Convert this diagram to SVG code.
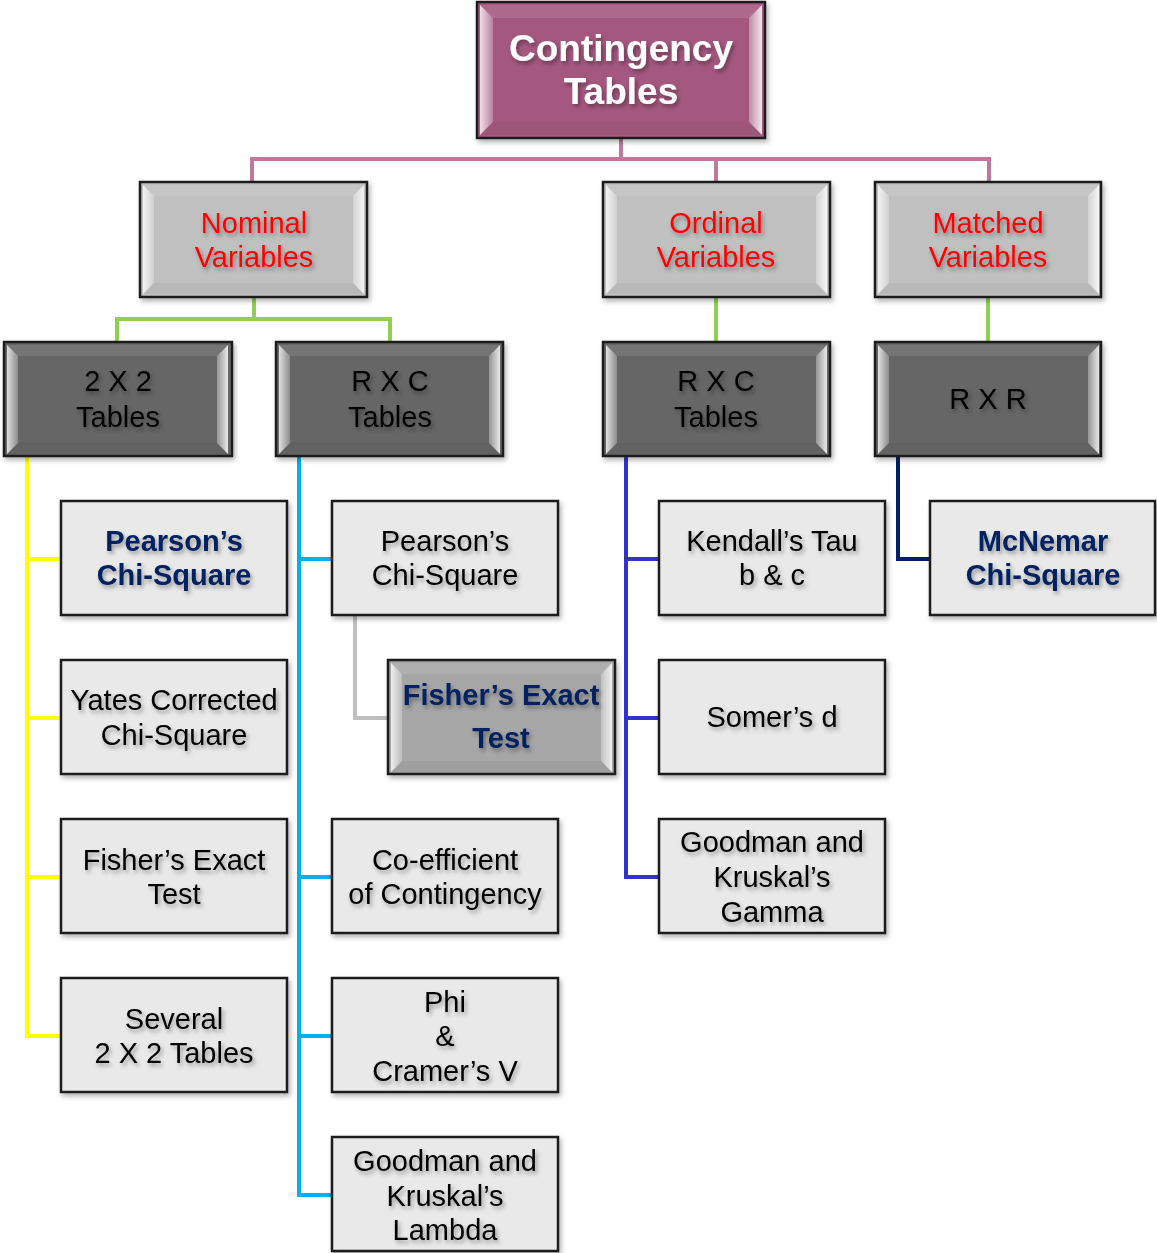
<svg xmlns="http://www.w3.org/2000/svg" xmlns:xlink="http://www.w3.org/1999/xlink" width="1157" height="1253" viewBox="0 0 1157 1253">
<defs>
<filter id="ts" x="-10%" y="-30%" width="130%" height="170%"><feDropShadow dx="2" dy="3" stdDeviation="2" flood-color="#000" flood-opacity="0.35"/></filter>
<filter id="bs" x="-5%" y="-5%" width="115%" height="120%"><feDropShadow dx="2" dy="3" stdDeviation="2.5" flood-color="#000" flood-opacity="0.3"/></filter>
<linearGradient id="gl" x1="0" y1="0" x2="1" y2="0"><stop offset="0" stop-color="#fff" stop-opacity="0.8"/><stop offset="1" stop-color="#fff" stop-opacity="0.25"/></linearGradient>
<linearGradient id="gr" x1="1" y1="0" x2="0" y2="0"><stop offset="0" stop-color="#fff" stop-opacity="0.85"/><stop offset="1" stop-color="#fff" stop-opacity="0.3"/></linearGradient>
<g id="bev">
<polygon points="3,3 224,3 213,14 14,14" fill="#fff" fill-opacity="0.1"/>
<polygon points="3,112 224,112 213,101 14,101" fill="#000" fill-opacity="0.04"/>
<polygon points="3,3 14,14 14,101 3,112" fill="url(#gl)"/>
<polygon points="224,3 213,14 213,101 224,112" fill="url(#gr)"/>
</g>
<g id="bevR">
<polygon points="3,3 285,3 272,16 16,16" fill="#fff" fill-opacity="0.1"/>
<polygon points="3,133 285,133 272,120 16,120" fill="#000" fill-opacity="0.04"/>
<polygon points="3,3 16,16 16,120 3,133" fill="url(#gl)"/>
<polygon points="285,3 272,16 272,120 285,133" fill="url(#gr)"/>
</g>
</defs>
<style>
.box{stroke:#1a1a1a;stroke-width:2.5}
.root{fill:#A5587F}
.l1{fill:#C0C0C0}
.dk{fill:#666666}
.lf{fill:#E9E9E9}
.fx{fill:#A6A6A6}
text{font-family:"Liberation Sans",Arial,sans-serif;font-size:29px;text-anchor:middle}
.tw{fill:#fff;font-weight:bold;font-size:37px}
.tr{fill:#FF0000}
.tk{fill:#000}
.tb{fill:#002060;font-weight:bold}
.c{fill:none;stroke-width:4;stroke-linejoin:miter}
</style>
<g id="connectors">
<path class="c" stroke="#C0789D" d="M621,138 V159 M252,182 V159 H989 V182 M716,159 V182"/>
<path class="c" stroke="#92D050" d="M254,297 V319 M117,342 V319 H390 V342 M716,297 V342 M988,297 V342"/>
<path class="c" stroke="#FFFF00" d="M27,456 V1036 H61 M27,559 H61 M27,718 H61 M27,877 H61"/>
<path class="c" stroke="#00B0F0" d="M299,456 V1195 H332 M299,559 H332 M299,877 H332 M299,1036 H332"/>
<path class="c" stroke="#BFBFBF" d="M355,615 V718 H388"/>
<path class="c" stroke="#3333CC" d="M626,456 V877 H659 M626,559 H659 M626,718 H659"/>
<path class="c" stroke="#002060" d="M898,456 V559 H930"/>
</g>
<g id="root" filter="url(#bs)"><rect class="box root" x="477" y="2" width="288" height="136"/><use xlink:href="#bevR" x="477" y="2"/>
<text class="tw" filter="url(#ts)"><tspan x="621" y="61">Contingency</tspan><tspan x="621" y="104">Tables</tspan></text></g>

<g id="nominal" filter="url(#bs)"><rect class="box l1" x="140" y="182" width="227" height="115"/><use xlink:href="#bev" x="140" y="182"/>
<text class="tr" filter="url(#ts)"><tspan x="254" y="233">Nominal</tspan><tspan x="254" y="267">Variables</tspan></text></g>
<g id="ordinal" filter="url(#bs)"><rect class="box l1" x="603" y="182" width="227" height="115"/><use xlink:href="#bev" x="603" y="182"/>
<text class="tr" filter="url(#ts)"><tspan x="716" y="233">Ordinal</tspan><tspan x="716" y="267">Variables</tspan></text></g>
<g id="matched" filter="url(#bs)"><rect class="box l1" x="875" y="182" width="226" height="115"/><use xlink:href="#bev" x="875" y="182"/>
<text class="tr" filter="url(#ts)"><tspan x="988" y="233">Matched</tspan><tspan x="988" y="267">Variables</tspan></text></g>

<g id="t2x2" filter="url(#bs)"><rect class="box dk" x="4" y="342" width="228" height="114"/><use xlink:href="#bev" x="4" y="342"/>
<text class="tk" filter="url(#ts)"><tspan x="118" y="391">2 X 2</tspan><tspan x="118" y="427">Tables</tspan></text></g>
<g id="trxc1" filter="url(#bs)"><rect class="box dk" x="276" y="342" width="227" height="114"/><use xlink:href="#bev" x="276" y="342"/>
<text class="tk" filter="url(#ts)"><tspan x="390" y="391">R X C</tspan><tspan x="390" y="427">Tables</tspan></text></g>
<g id="trxc2" filter="url(#bs)"><rect class="box dk" x="603" y="342" width="227" height="114"/><use xlink:href="#bev" x="603" y="342"/>
<text class="tk" filter="url(#ts)"><tspan x="716" y="391">R X C</tspan><tspan x="716" y="427">Tables</tspan></text></g>
<g id="trxr" filter="url(#bs)"><rect class="box dk" x="875" y="342" width="226" height="114"/><use xlink:href="#bev" x="875" y="342"/>
<text class="tk" filter="url(#ts)" x="988" y="409">R X R</text></g>

<g id="pearson1" filter="url(#bs)"><rect class="box lf" x="61" y="501" width="226" height="114"/>
<text class="tb" filter="url(#ts)"><tspan x="174" y="551">Pearson’s</tspan><tspan x="174" y="585">Chi-Square</tspan></text></g>
<g id="yates" filter="url(#bs)"><rect class="box lf" x="61" y="660" width="226" height="114"/>
<text class="tk" filter="url(#ts)"><tspan x="174" y="710">Yates Corrected</tspan><tspan x="174" y="745">Chi-Square</tspan></text></g>
<g id="fisher1" filter="url(#bs)"><rect class="box lf" x="61" y="819" width="226" height="114"/>
<text class="tk" filter="url(#ts)"><tspan x="174" y="870">Fisher’s Exact</tspan><tspan x="174" y="904">Test</tspan></text></g>
<g id="several" filter="url(#bs)"><rect class="box lf" x="61" y="978" width="226" height="114"/>
<text class="tk" filter="url(#ts)"><tspan x="174" y="1029">Several</tspan><tspan x="174" y="1063">2 X 2 Tables</tspan></text></g>

<g id="pearson2" filter="url(#bs)"><rect class="box lf" x="332" y="501" width="226" height="114"/>
<text class="tk" filter="url(#ts)"><tspan x="445" y="551">Pearson’s</tspan><tspan x="445" y="585">Chi-Square</tspan></text></g>
<g id="fisher2" filter="url(#bs)"><rect class="box fx" x="388" y="660" width="227" height="114"/><use xlink:href="#bev" x="388" y="660"/>
<text class="tb" filter="url(#ts)"><tspan x="501" y="705">Fisher’s Exact</tspan><tspan x="501" y="748">Test</tspan></text></g>
<g id="coeff" filter="url(#bs)"><rect class="box lf" x="332" y="819" width="226" height="114"/>
<text class="tk" filter="url(#ts)"><tspan x="445" y="870">Co-efficient</tspan><tspan x="445" y="904">of Contingency</tspan></text></g>
<g id="phi" filter="url(#bs)"><rect class="box lf" x="332" y="978" width="226" height="114"/>
<text class="tk" filter="url(#ts)"><tspan x="445" y="1012">Phi</tspan><tspan x="445" y="1046">&amp;</tspan><tspan x="445" y="1081">Cramer’s V</tspan></text></g>
<g id="lambda" filter="url(#bs)"><rect class="box lf" x="332" y="1137" width="226" height="114"/>
<text class="tk" filter="url(#ts)"><tspan x="445" y="1171">Goodman and</tspan><tspan x="445" y="1206">Kruskal’s</tspan><tspan x="445" y="1240">Lambda</tspan></text></g>

<g id="kendall" filter="url(#bs)"><rect class="box lf" x="659" y="501" width="226" height="114"/>
<text class="tk" filter="url(#ts)"><tspan x="772" y="551">Kendall’s Tau</tspan><tspan x="772" y="585">b &amp; c</tspan></text></g>
<g id="somer" filter="url(#bs)"><rect class="box lf" x="659" y="660" width="226" height="114"/>
<text class="tk" filter="url(#ts)" x="772" y="727">Somer’s d</text></g>
<g id="gamma" filter="url(#bs)"><rect class="box lf" x="659" y="819" width="226" height="114"/>
<text class="tk" filter="url(#ts)"><tspan x="772" y="852">Goodman and</tspan><tspan x="772" y="887">Kruskal’s</tspan><tspan x="772" y="922">Gamma</tspan></text></g>

<g id="mcnemar" filter="url(#bs)"><rect class="box lf" x="930" y="501" width="225" height="114"/>
<text class="tb" filter="url(#ts)"><tspan x="1043" y="551">McNemar</tspan><tspan x="1043" y="585">Chi-Square</tspan></text></g>
</svg>
